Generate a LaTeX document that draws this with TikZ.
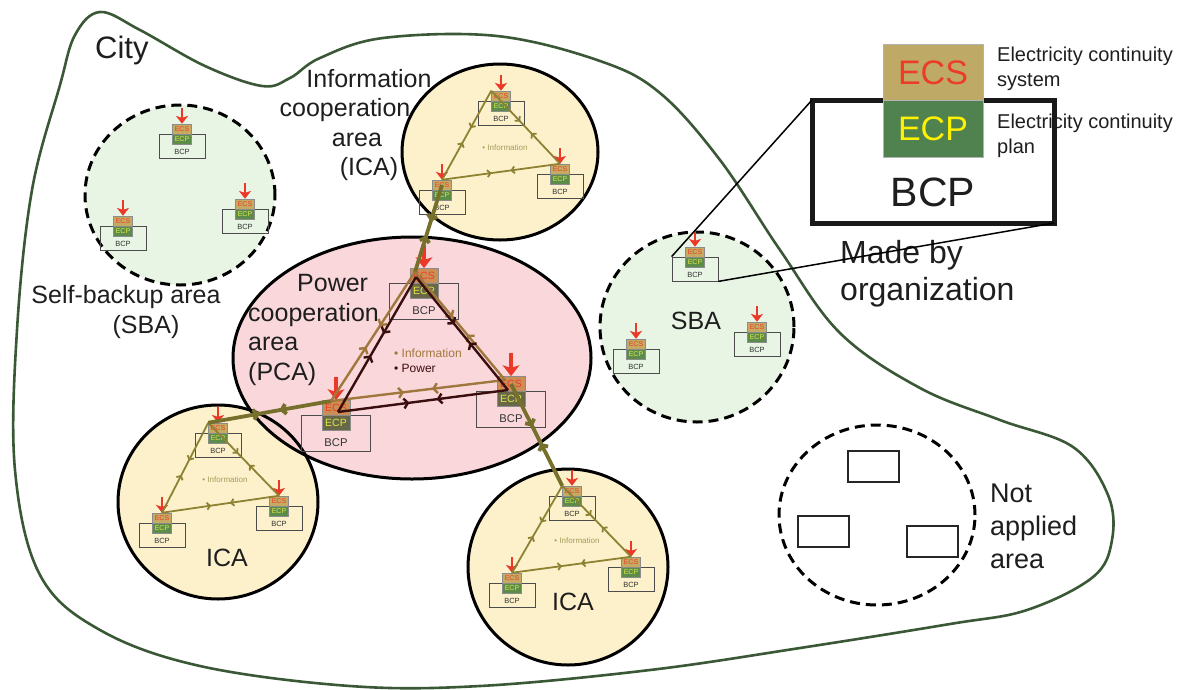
\documentclass[tikz,border=0pt]{standalone}
\usepackage{fontspec}
\setmainfont{Liberation Sans}
\usetikzlibrary{arrows.meta,decorations.markings}

\definecolor{cityline}{RGB}{58,88,54}
\definecolor{sbafill}{RGB}{232,245,228}
\definecolor{icafill}{RGB}{253,241,204}
\definecolor{pcafill}{RGB}{248,208,212}
\definecolor{ecsfill}{RGB}{198,170,98}
\definecolor{ecstext}{RGB}{236,60,40}
\definecolor{ecpfill}{RGB}{92,140,74}
\definecolor{ecptext}{RGB}{226,232,70}
\definecolor{pcaecs}{RGB}{204,142,84}
\definecolor{pcaecp}{RGB}{104,104,72}
\definecolor{feedred}{RGB}{236,56,40}
\definecolor{infoline}{RGB}{140,130,50}
\definecolor{linkline}{RGB}{118,112,44}
\definecolor{pcainfo}{RGB}{160,120,62}
\definecolor{pcapower}{RGB}{58,14,14}
\definecolor{legecs}{RGB}{190,170,102}
\definecolor{legecp}{RGB}{80,130,80}
\definecolor{legtext}{RGB}{30,30,30}

\tikzset{
	every node/.style={text=legtext},
	city/.style={draw=cityline,line width=2.6pt},
	area/.style={draw=black,line width=3pt},
	sba/.style={area,dash pattern=on 10pt off 6pt,fill=sbafill},
	ecsbox/.style={draw=black!45,line width=0.5pt,fill=ecsfill,text=ecstext,minimum width=19pt,minimum height=10pt,inner sep=0pt,font=\fontsize{7}{8}\selectfont},
	ecpbox/.style={ecsbox,fill=ecpfill,text=ecptext},
	bcpbox/.style={draw=black!70,line width=0.8pt,minimum width=46pt,minimum height=24pt,inner sep=0pt},
	bcplbl/.style={text=black!80,inner sep=0pt,font=\fontsize{7.5}{8}\selectfont},
	feed/.style={draw=feedred,line width=2.8pt,-{Stealth[length=0pt 2.8,width=0pt 4.3,inset=0pt 0.7]}},
	pcaunit/.style={scale=1.5,transform shape,ecsbox/.append style={fill=pcaecs},ecpbox/.append style={fill=pcaecp},feed/.append style={line width=3.9pt}},
	bcp/.pic={
		\node[bcpbox] (-box) at (0,17) {};
		\node[ecsbox] (-ecs) at (0,0) {ECS};
		\node[ecpbox] (-ecp) at (0,10) {ECP};
		\node[bcplbl] (-lbl) at (0,23) {BCP};
		\coordinate (-in) at (0,-21);
		\draw[feed] (-in) -- (-ecs.north);
	},
	twoway/.style={postaction={decorate,decoration={markings,
		mark=at position 0.42 with {\arrow{Straight Barb[length=3pt,width=7pt]}},
		mark=at position 0.58 with {\arrowreversed{Straight Barb[length=3pt,width=7pt]}}}}},
	twowaybig/.style={postaction={decorate,decoration={markings,
		mark=at position 0.42 with {\arrow{Straight Barb[length=4pt,width=10pt]}},
		mark=at position 0.58 with {\arrowreversed{Straight Barb[length=4pt,width=10pt]}}}}},
	infoline/.style={draw=infoline,line width=1.8pt,twoway},
	link/.style={draw=linkline,line width=3.8pt,twowaybig},
	pcainfoline/.style={draw=pcainfo,line width=2.4pt,twowaybig},
	powerline/.style={draw=pcapower,line width=2.4pt,twowaybig},
	infotxt/.style={text=infoline!80,inner sep=0pt,font=\fontsize{8}{9}\selectfont},
	pcatxt/.style={inner sep=0pt,anchor=west,font=\fontsize{12}{14}\selectfont},
	lbl/.style={inner sep=0pt,align=center,font=\fontsize{25}{29.5}\selectfont},
	emptybox/.style={draw=black!85,line width=1.5pt,minimum width=51pt,minimum height=31pt,inner sep=0pt},
	legbcp/.style={draw=black!90,line width=5pt,minimum width=242pt,minimum height=123pt,inner sep=0pt,outer sep=0pt},
	legbox/.style={draw=black!30,line width=0.6pt,minimum width=100pt,minimum height=56.5pt,inner sep=0pt,font=\fontsize{34}{40}\selectfont},
	legnote/.style={inner sep=0pt,anchor=north west,align=left,font=\fontsize{20}{25}\selectfont},
	zoomline/.style={draw=black,line width=1.5pt}
}

\begin{document}
\begin{tikzpicture}[x=1pt,y=-1pt]
	\useasboundingbox (0,0) rectangle (1189,689);
	\draw[city] plot[smooth cycle,tension=0.6] coordinates {(100,12) (140,30) (205,66) (262,86) (290,78) (320,58) (383,38) (497,36) (600,61) (660,93) (720,160) (780,250) (840,333) (920,388) (1000,420) (1073,447) (1108,495) (1112,540) (1093,577) (1027,610) (950,624) (800,648) (650,670) (480,686) (350,686) (200,666) (100,630) (40,575) (15,470) (17,330) (32,190) (60,85) (75,35)};

	\draw[sba] (180,195) ellipse (95pt and 90pt);
	\draw[sba] (697,327) ellipse (97pt and 95pt);
	\draw[area,dash pattern=on 10pt off 6pt] (877,515) ellipse (98pt and 90pt);

	\fill[icafill] (500,152) ellipse (98pt and 88pt);
	\fill[icafill] (218,502) ellipse (100pt and 97pt);
	\fill[icafill] (568,567) ellipse (100pt and 98pt);
	\fill[pcafill,fill opacity=0.85] (412,358) ellipse (179pt and 121pt);
	\draw[area] (500,152) ellipse (98pt and 88pt);
	\draw[area] (218,502) ellipse (100pt and 97pt);
	\draw[area] (568,567) ellipse (100pt and 98pt);
	\draw[area] (412,358) ellipse (179pt and 121pt);

	\node[emptybox] (n1) at (873.5,466.5) {};
	\node[emptybox] (n2) at (823.5,531.5) {};
	\node[emptybox] (n3) at (932.5,541.5) {};

	\pic (s1) at (182,129) {bcp};
	\pic (s2) at (123,221) {bcp};
	\pic (s3) at (245,204) {bcp};
	\pic (r1) at (695,252) {bcp};
	\pic (r2) at (636,344) {bcp};
	\pic (r3) at (757,327) {bcp};
	\pic (t1) at (501,96) {bcp};
	\pic (t2) at (560,169) {bcp};
	\pic (t3) at (442,185) {bcp};
	\pic (l1) at (218,428) {bcp};
	\pic (l2) at (162,518) {bcp};
	\pic (l3) at (279,501) {bcp};
	\pic (b1) at (572,491) {bcp};
	\pic (b2) at (512,578) {bcp};
	\pic (b3) at (631,562) {bcp};
	\pic[pcaunit] (p1) at (424,276) {bcp};
	\pic[pcaunit] (p2) at (336,408) {bcp};
	\pic[pcaunit] (p3) at (511,384) {bcp};

	\draw[infoline] (t3-ecs.north) -- (t1-ecs.north west);
	\draw[infoline] (t2-ecs.north) -- (t1-ecs.north west);
	\draw[infoline] (t3-ecs.north) -- (t2-ecs.north);
	\draw[infoline] (l2-ecs.north) -- (l1-ecs.north west);
	\draw[infoline] (l3-ecs.north) -- (l1-ecs.north west);
	\draw[infoline] (l2-ecs.north) -- (l3-ecs.north);
	\draw[infoline] (b2-ecs.north) -- (b1-ecs.north west);
	\draw[infoline] (b3-ecs.north) -- (b1-ecs.north west);
	\draw[infoline] (b2-ecs.north) -- (b3-ecs.north);

	\coordinate (it) at ([xshift=-9pt,yshift=4pt]p1-ecs.center);
	\coordinate (il) at ([xshift=-5pt,yshift=7pt]p2-ecs.center);
	\coordinate (ir) at ([xshift=-6pt,yshift=4pt]p3-ecs.center);
	\coordinate (wt) at ([xshift=-8pt,yshift=-1pt]p1-ecs.center);
	\coordinate (wl) at ([xshift=2pt,yshift=-4pt]p2-ecs.center);
	\coordinate (wr) at ([xshift=-3pt,yshift=-6pt]p3-ecs.center);

	\draw[link] (t3-ecs.center) -- (it);
	\draw[link] (il) -- (l1-ecs.north west);
	\draw[link] (p3-ecs.center) -- (b1-ecs.north west);

	\draw[pcainfoline] (il) -- (it);
	\draw[pcainfoline] (ir) -- (it);
	\draw[pcainfoline] (il) -- (ir);
	\draw[powerline] (wl) -- (wt);
	\draw[powerline] (wr) -- (wt);
	\draw[powerline] (wl) -- (wr);

	\node[infotxt] (ti) at (505,148) {• Information};
	\node[infotxt] (li) at (225,480) {• Information};
	\node[infotxt] (bi) at (577,541) {• Information};
	\node[pcatxt,text=pcainfo] (pi) at (394,353) {• Information};
	\node[pcatxt,text=pcapower] (pw) at (394,368) {• Power};

	\node[lbl,anchor=base west,font=\fontsize{31}{36}\selectfont] (citylbl) at (95,58) {City};
	\node[lbl] (icalbl) at (345,125) {\hspace*{48pt}Information\\cooperation\\\hspace*{24pt}area\\\hspace*{48pt}(ICA)};
	\node[lbl] (sbalbl) at (126,312) {Self-backup area\\\hspace*{40pt}(SBA)};
	\node[lbl,align=left,anchor=west] (pcalbl) at (248,330) {\hspace*{49pt}Power\\cooperation\\area\\(PCA)};
	\node[lbl] (sbalbl2) at (696,321) {SBA};
	\node[lbl] (icalbl2) at (227,558) {ICA};
	\node[lbl] (icalbl3) at (573,602) {ICA};
	\node[lbl,align=left,anchor=west,font=\fontsize{27}{33}\selectfont] (nalbl) at (990,526) {Not\\applied\\area};
	\node[lbl,align=left,anchor=west,font=\fontsize{32}{37}\selectfont] (madelbl) at (840,274) {Made by\\organization};

	\node[legbcp] (leg) at (933,161.5) {};
	\node[legbox,fill=legecs,text=ecstext] (legs) at (933,72.5) {ECS};
	\node[legbox,fill=legecp,text=yellow] (legp) at (933,129) {ECP};
	\node[inner sep=0pt,font=\fontsize{41}{48}\selectfont] (legb) at (933,192) {BCP};
	\node[legnote] (note1) at (997,47) {Electricity continuity\\system};
	\node[legnote] (note2) at (997,114) {Electricity continuity\\plan};

	\draw[zoomline] (leg.north west) -- (r1-box.north west);
	\draw[zoomline] (leg.south east) -- (r1-box.south east);
\end{tikzpicture}
\end{document}
